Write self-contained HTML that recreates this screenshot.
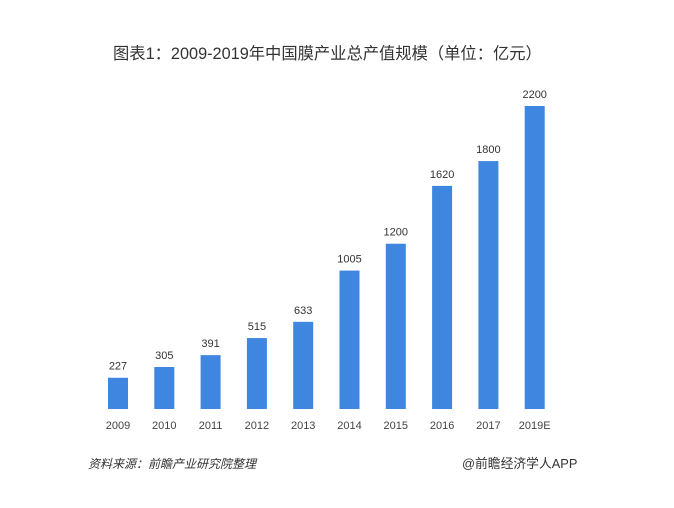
<!DOCTYPE html>
<html><head><meta charset="utf-8"><style>
body{margin:0;background:#fff;width:674px;height:503px;overflow:hidden;font-family:"Liberation Sans","Noto Sans CJK SC",sans-serif;}
</style></head><body>
<svg width="674" height="503">
<text x="113" y="59" font-size="16.3" fill="#333" font-family="Liberation Sans, Noto Sans CJK SC, sans-serif">图表1：2009-2019年中国膜产业总产值规模（单位：亿元）</text>
<g id="bars"></g>
<text x="88" y="468" font-size="12" fill="#333" font-style="italic" font-family="Liberation Sans, Noto Sans CJK SC, sans-serif">资料来源：前瞻产业研究院整理</text>
<text x="462" y="468" font-size="12.8" fill="#333" font-family="Liberation Sans, Noto Sans CJK SC, sans-serif">@前瞻经济学人APP</text>
</svg>
<script>
const categories=["2009","2010","2011","2012","2013","2014","2015","2016","2017","2019E"];
const values=[227,305,391,515,633,1005,1200,1620,1800,2200];
const x0=118, step=46.3, base=409, scale=303/2200, bw=20;
function xPos(i){return x0+i*step;}
function yPos(v){return base-v*scale;}
const g=document.getElementById('bars');
const ns="http://www.w3.org/2000/svg";
categories.forEach((c,i)=>{
 const r=document.createElementNS(ns,'rect');
 r.setAttribute('x',xPos(i)-bw/2);r.setAttribute('y',yPos(values[i]));
 r.setAttribute('width',bw);r.setAttribute('height',base-yPos(values[i]));
 r.setAttribute('fill','#3f86e0');
 
 
 g.appendChild(r);
 const t=document.createElementNS(ns,'text');
 t.setAttribute('x',xPos(i));t.setAttribute('y',yPos(values[i])-8);
 t.setAttribute('text-anchor','middle');t.setAttribute('font-size','11');t.setAttribute('fill','#333');
 t.textContent=values[i];
 
 
 g.appendChild(t);
 const l=document.createElementNS(ns,'text');
 l.setAttribute('x',xPos(i));l.setAttribute('y',429);
 l.setAttribute('text-anchor','middle');l.setAttribute('font-size','11');l.setAttribute('fill','#444');
 l.textContent=c;
 
 
 g.appendChild(l);
});
</script>
</body></html>
